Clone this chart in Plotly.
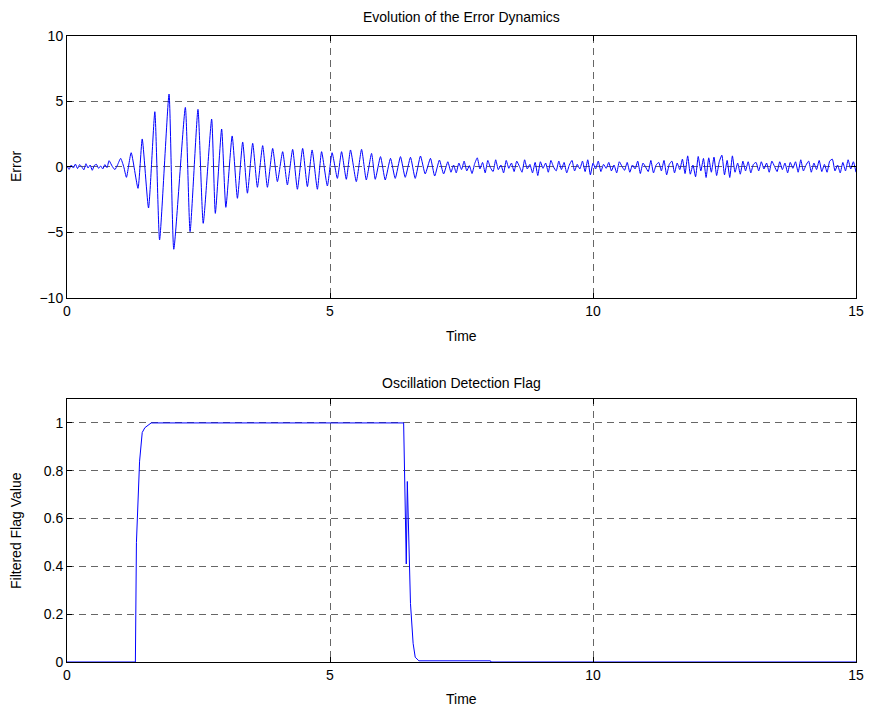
import numpy as np
import plotly.graph_objects as go

# ---------------- data ----------------
# quiet start of the error signal, sampled from t=0 to t=0.76
quiet_v = [0.08, -0.18, 0.15, -0.08, 0.22, -0.12, 0.18, 0.02, -0.22, 0.25,
           -0.08, 0.15, -0.25, 0.12, 0.20, -0.10, 0.08, -0.15, 0.18, -0.05]

# oscillation burst: peaks and troughs
osc_t = [0.80, 0.86, 0.91, 0.96, 1.02, 1.08, 1.13, 1.22, 1.35, 1.43,
         1.55, 1.67, 1.76, 1.94, 2.03, 2.25, 2.34, 2.49, 2.59, 2.75,
         2.82, 2.94, 3.02, 3.14, 3.24, 3.34, 3.43, 3.53, 3.62, 3.72,
         3.81, 3.91, 4.00, 4.10, 4.19, 4.29, 4.38, 4.48, 4.57, 4.66,
         4.76, 4.84, 4.95, 5.04, 5.14, 5.22, 5.31, 5.39, 5.50, 5.60,
         5.69, 5.79, 5.86, 5.96, 6.05, 6.15, 6.24, 6.34, 6.43, 6.53,
         6.62, 6.72, 6.81, 6.91, 6.99, 7.08, 7.16, 7.24]
osc_v = [0.48, 0.05, -0.20, 0.15, 0.66, 0.00, -0.79, 1.09, -1.63, 2.14,
         -3.13, 4.22, -5.57, 5.57, -6.28, 4.55, -4.94, 4.40, -4.30, 3.66,
         -3.54, 2.90, -3.08, 2.37, -2.39, 1.91, -2.00, 1.81, -1.55, 1.63,
         -1.55, 1.42, -1.12, 1.17, -1.37, 1.35, -1.70, 1.42, -1.50, 1.30,
         -1.70, 1.17, -1.45, 1.09, -0.87, 1.17, -0.94, 1.30, -1.12, 1.35,
         -0.99, 1.04, -0.94, 0.79, -0.99, 0.66, -0.87, 0.79, -0.79, 0.74,
         -0.87, 0.84, -0.53, 0.66, -0.69, 0.53, -0.53, 0.40]

# residual noise tail, sampled from t=7.30 to t=15
tail_v = [-0.40, 0.15, -0.45, 0.30, -0.20, 0.45, -0.30, 0.10, -0.50, 0.25,
          0.70, -0.15, 0.35, -0.45, 0.50, -0.05, -0.35, 0.55, -0.20, 0.15,
          -0.45, 0.50, -0.10, 0.30, -0.35, 0.45, 0.05, -0.40, 0.55, -0.15,
          0.20, -0.45, 0.35, -0.65, 0.40, -0.10, 0.30, -0.40, 0.50, 0.00,
          -0.30, 0.45, -0.20, 0.35, -0.45, 0.15, 0.50, -0.30, 0.20, -0.15,
          0.45, -0.35, 0.55, -0.60, 0.30, -0.15, 0.45, -0.35, 0.20, -0.10,
          0.35, -0.30, 0.15, -0.45, 0.40, 0.05, -0.25, 0.35, -0.40, 0.15,
          -0.15, 0.45, -0.50, 0.30, 0.00, -0.35, 0.50, -0.45, 0.15, 0.35,
          -0.30, 0.50, -0.60, 0.20, 0.45, -0.45, 0.30, -0.20, 0.60, -0.50,
          0.85, -0.55, 0.15, -0.75, 0.80, -0.30, 0.65, -0.80, 0.70, -0.40,
          0.75, -0.65, 0.40, 0.90, -0.60, 0.50, -0.80, 0.85, -0.40, 0.30,
          -0.55, 0.45, -0.30, 0.40, -0.45, 0.20, 0.35, -0.30, 0.40, -0.15,
          0.30, -0.40, 0.45, 0.05, -0.35, 0.40, -0.20, 0.30, -0.45, 0.35,
          -0.10, 0.40, -0.40, 0.55, -0.30, 0.15, 0.45, -0.40, 0.30, -0.20,
          0.50, -0.35, 0.20, -0.40, 0.45, 0.60, -0.30, 0.15, -0.45, 0.35,
          -0.30, 0.55, -0.15, 0.40, -0.40]

# filtered oscillation-detection flag
flag_t = [0, 1.30, 1.32, 1.38, 1.43, 1.48, 1.54, 1.60, 6.40, 6.45,
          6.47, 6.52, 6.53, 6.58, 6.62, 6.69, 8.05, 8.06, 15]
flag_v = [0, 0, 0.50, 0.84, 0.96, 0.98, 0.99, 1.0, 1.0, 0.41,
          0.755, 0.40, 0.245, 0.078, 0.02, 0.005, 0.005, 0, 0]

x_ticks = [0, 5, 10, 15]
err_ticks = [-10, -5, 0, 5, 10]
flag_ticks = [0, 0.2, 0.4, 0.6, 0.8, 1]
flag_ticktext = ["0", "0.2", "0.4", "0.6", "0.8", "1"]

title_top = "Evolution of the Error Dynamics"
title_bottom = "Oscillation Detection Flag"

# ---------------- figure ----------------
err_t = list(np.linspace(0.0, 0.76, len(quiet_v))) + osc_t + list(np.linspace(7.30, 15.0, len(tail_v)))
err_v = quiet_v + osc_v + tail_v

FONT = "Liberation Sans"
FS = 14

fig = go.Figure()
fig.add_trace(go.Scatter(x=err_t, y=err_v, mode="lines",
                         line=dict(color="#0000ff", width=1, shape="spline", smoothing=0.5),
                         xaxis="x", yaxis="y", showlegend=False))
fig.add_trace(go.Scatter(x=flag_t, y=flag_v, mode="lines",
                         line=dict(color="#0000ff", width=1),
                         xaxis="x2", yaxis="y2", showlegend=False))

ax = dict(showline=True, linecolor="black", linewidth=1, mirror="allticks",
          ticks="inside", ticklen=5, tickcolor="black", automargin=False,
          ticklabeloverflow="allow",
          showgrid=True, gridcolor="rgba(0,0,0,0.6)", gridwidth=1, griddash="7px,5px",
          zeroline=False, tickfont=dict(family=FONT, size=FS, color="black"))

top_dom = [0.5815, 1.0]
bot_dom = [0.0, 0.4201]

# page body has an 8px margin, so the figure is offset by 8px
fig.update_layout(
    width=865, height=705,
    margin=dict(l=59, r=17, t=28, b=51, autoexpand=False),
    paper_bgcolor="white", plot_bgcolor="white",
    font=dict(family=FONT, size=FS, color="black"),
    xaxis=dict(ax, domain=[0, 1], range=[0, 15], tickvals=x_ticks, anchor="y"),
    yaxis=dict(ax, domain=top_dom, range=[-10, 10], tickvals=err_ticks, anchor="x"),
    xaxis2=dict(ax, domain=[0, 1], range=[0, 15], tickvals=x_ticks, anchor="y2"),
    yaxis2=dict(ax, domain=bot_dom, range=[0, 1.1], tickvals=flag_ticks,
                ticktext=flag_ticktext, anchor="x2"),
)

def ann(text, x, y, xanchor="center", yanchor="middle", angle=0):
    fig.add_annotation(text=text, x=x, y=y, xref="paper", yref="paper",
                       xanchor=xanchor, yanchor=yanchor, textangle=angle,
                       showarrow=False, font=dict(family=FONT, size=FS, color="black"))

ann(title_top, 0.5, (662 - 17) / 626)
ann(title_bottom, 0.5, (662 - 383) / 626)
ann("Time", 0.5, (662 - 336) / 626)
ann("Time", 0.5, (662 - 699) / 626)
ann("Error", (16 - 67) / 789, (662 - 167) / 626, angle=-90)
ann("Filtered Flag Value", (16 - 67) / 789, (662 - 531) / 626, angle=-90)

fig.write_html("out.html")
